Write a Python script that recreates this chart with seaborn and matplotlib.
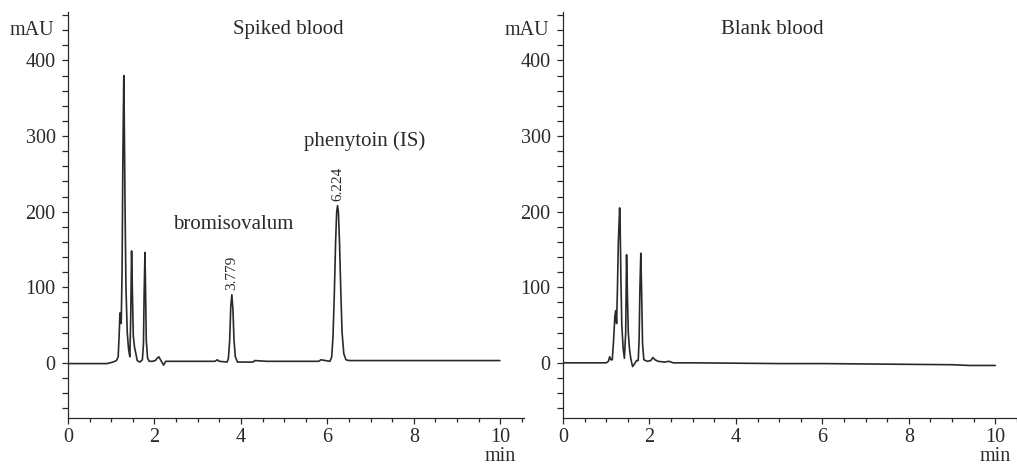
import numpy as np
import pandas as pd
import matplotlib
matplotlib.use("Agg")
import matplotlib.pyplot as plt
from matplotlib.ticker import MultipleLocator
import seaborn as sns

# chromatogram traces (time in min, signal in mAU)
spiked_time = [0.0, 0.3, 0.6, 0.9, 1.04, 1.12, 1.16, 1.185, 1.20, 1.21, 1.23,
               1.25, 1.27, 1.29, 1.30, 1.32, 1.34, 1.37, 1.40, 1.43, 1.45, 1.47,
               1.49, 1.51, 1.54, 1.57, 1.60, 1.66, 1.72, 1.745, 1.76, 1.78, 1.795,
               1.81, 1.84, 1.88, 1.95, 2.02, 2.06, 2.10, 2.15, 2.21, 2.26, 2.50,
               3.00, 3.40, 3.45, 3.50, 3.68, 3.71, 3.74, 3.765, 3.79, 3.815, 3.84,
               3.87, 3.92, 4.05, 4.28, 4.32, 4.60, 5.20, 5.80, 5.85, 6.06, 6.10,
               6.13, 6.16, 6.19, 6.215, 6.235, 6.255, 6.28, 6.31, 6.34, 6.38, 6.43,
               6.50, 7.00, 7.50, 8.00, 8.50, 9.00, 9.50, 9.99]
spiked_mau = [-1, -1, -1, -1, 1, 3, 8, 40, 66, 60, 52,
              120, 280, 380, 330, 200, 100, 40, 18, 8, 60, 148,
              90, 35, 20, 12, 3, 1, 4, 25, 90, 146, 90,
              30, 6, 2, 2, 3, 6, 8, 3, -3, 2, 2,
              2, 2, 4, 2, 1, 6, 30, 75, 90, 70, 30,
              8, 1, 1, 1, 3, 2, 2, 2, 4, 2, 8,
              35, 90, 160, 200, 208, 200, 160, 95, 40, 12, 4,
              3, 3, 3, 3, 3, 3, 3, 3]

blank_time = [0.0, 0.5, 1.0, 1.05, 1.08, 1.11, 1.14, 1.17, 1.20, 1.22, 1.24, 1.26,
              1.28, 1.31, 1.32, 1.34, 1.36, 1.39, 1.42, 1.45, 1.47, 1.49, 1.51,
              1.54, 1.57, 1.61, 1.66, 1.70, 1.74, 1.76, 1.78, 1.80, 1.82, 1.84,
              1.87, 1.95, 2.03, 2.08, 2.13, 2.20, 2.35, 2.45, 2.55, 3.00, 4.00,
              5.00, 6.00, 7.00, 8.00, 9.00, 9.40, 10.0]
blank_mau = [0, 0, 0, 2, 8, 4, 4, 30, 62, 69, 52, 100,
             160, 205, 190, 110, 50, 20, 6, 40, 143, 90, 40,
             17, 5, -5, -1, 3, 3, 30, 100, 145, 90, 25,
             4, 2, 3, 7, 4, 2, 1, 2, 0, 0, -0.5,
             -1, -1, -1.5, -2, -2.5, -3.5, -3.5]

peak_labels = ["3.779", "6.224"]
peak_pos = [3.79, 6.235]
peak_top = [96, 214]

sns.set_theme(style="ticks")
plt.rcParams["font.family"] = ["Liberation Serif", "DejaVu Serif"]

ink = "#2a2a2a"
fig = plt.figure(figsize=(10.17, 4.66), dpi=100)
ax1 = fig.add_axes([0.0669, 0.103, 0.4484, 0.871])
ax2 = fig.add_axes([0.5536, 0.103, 0.4484, 0.871])

spiked = pd.DataFrame({"t": spiked_time, "mAU": spiked_mau})
blank = pd.DataFrame({"t": blank_time, "mAU": blank_mau})

for ax, df, title, tx in [(ax1, spiked, "Spiked blood", 5.1),
                          (ax2, blank, "Blank blood", 4.85)]:
    sns.lineplot(data=df, x="t", y="mAU", ax=ax, color=ink, linewidth=1.2,
                 estimator=None, sort=False)
    ax.set_xlim(0, 10.55)
    ax.set_ylim(-73, 464)
    ax.xaxis.set_major_locator(MultipleLocator(2))
    ax.xaxis.set_minor_locator(MultipleLocator(0.5))
    ax.yaxis.set_major_locator(MultipleLocator(100))
    ax.yaxis.set_minor_locator(MultipleLocator(20))
    ax.tick_params(axis="x", which="major", length=4, width=0.9, color=ink,
                   labelsize=14.5, pad=3, labelcolor=ink)
    ax.tick_params(axis="x", which="minor", length=3, width=0.9, color=ink)
    ax.tick_params(axis="y", which="both", length=4, width=0.9, color=ink,
                   labelsize=14.5, pad=5, labelcolor=ink)
    ax.set_xlabel("")
    ax.set_ylabel("")
    sns.despine(ax=ax)
    for s in ["left", "bottom"]:
        ax.spines[s].set_color(ink)
        ax.spines[s].set_linewidth(0.9)
    ax.text(tx, 441, title, ha="center", va="center", fontsize=15, color=ink)
    ax.annotate("mAU", xy=(0, 440), xycoords=("axes fraction", "data"),
                xytext=(-10, 0), textcoords="offset points",
                ha="right", va="center", fontsize=14.5, color=ink)
    ax.annotate("min", xy=(10, 0), xycoords=("data", "axes fraction"),
                xytext=(0, -28), textcoords="offset points",
                ha="center", va="center", fontsize=14.5, color=ink)

ax1.text(3.82, 183, "bromisovalum", ha="center", va="center", fontsize=15, color=ink)
ax1.text(6.87, 293, "phenytoin (IS)", ha="center", va="center", fontsize=15, color=ink)
for lab, x, y in zip(peak_labels, peak_pos, peak_top):
    ax1.text(x, y, lab, rotation=90, ha="center", va="bottom", fontsize=11, color=ink)

fig.savefig("out.png", dpi=100)
